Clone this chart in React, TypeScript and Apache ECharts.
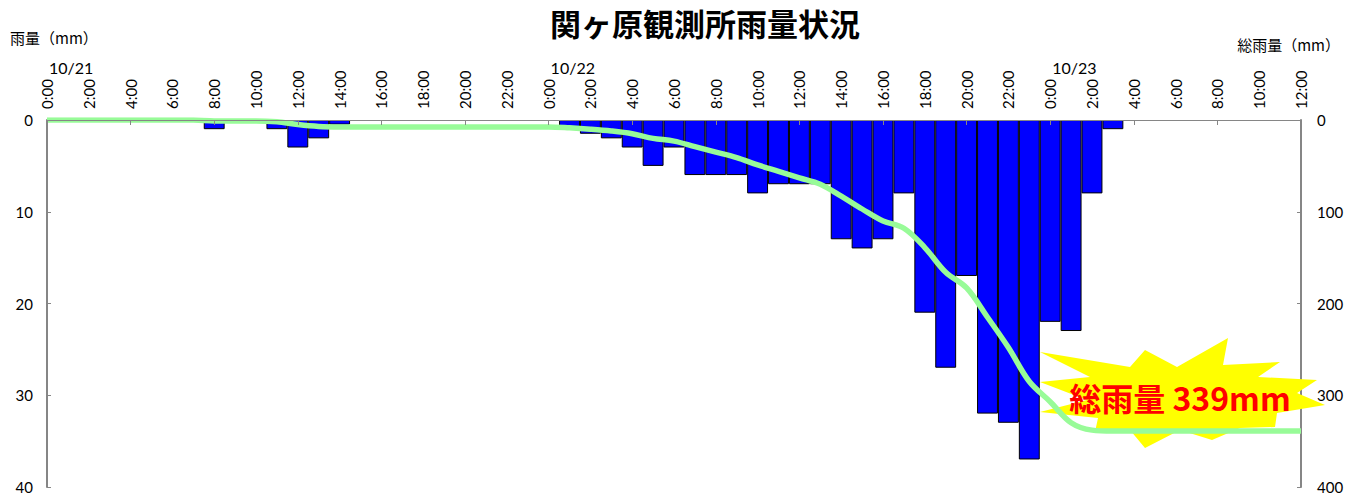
import React, { useEffect, useRef } from "react";
import * as echarts from "echarts";

const dayHours = [
  "0:00", "1:00", "2:00", "3:00", "4:00", "5:00", "6:00", "7:00",
  "8:00", "9:00", "10:00", "11:00", "12:00", "13:00", "14:00", "15:00",
  "16:00", "17:00", "18:00", "19:00", "20:00", "21:00", "22:00", "23:00",
];
const categories = [...dayHours, ...dayHours, ...dayHours.slice(0, 13)];
const dates = ["10/21", "10/22", "10/23"];

// hourly rainfall (mm), 10/21 0:00 .. 10/23 12:00
const hourlyRain: (number | null)[] = [
  // 10/21
  null, null, null, null, null, null, null, null, 1, null, null, 1,
  3, 2, 0.5, null, null, null, null, null, null, null, null, null,
  // 10/22
  null, 1, 1.5, 2, 3, 5, 3, 6, 6, 6, 8, 7,
  7, 7, 13, 14, 13, 8, 21, 27, 17, 32, 33, 37,
  // 10/23
  22, 23, 8, 1, null, null, null, null, null, null, null, null, null,
];

// cumulative rainfall (mm)
const totalRain: number[] = [
  // 10/21
  0, 0, 0, 0, 0, 0, 0, 0, 1, 1, 1, 2,
  5, 7, 7.5, 7.5, 7.5, 7.5, 7.5, 7.5, 7.5, 7.5, 7.5, 7.5,
  // 10/22
  7.5, 8.5, 10, 12, 15, 20, 23, 29, 35, 41, 49, 56,
  63, 70, 83, 97, 110, 118, 139, 166, 183, 215, 248, 285,
  // 10/23
  307, 330, 338, 339, 339, 339, 339, 339, 339, 339, 339, 339, 339,
];

const leftTicks = { min: 0, max: 40, interval: 10 };
const rightTicks = { min: 0, max: 400, interval: 100 };
const totalLabel = "総雨量 339mm";

const NUM_FONT = "Lato, 'Noto Sans', sans-serif";
const CJK_FONT = "'Noto Sans CJK JP', sans-serif";
const AXIS_GREY = "#868686";

export default function App() {
  const ref = useRef<HTMLDivElement>(null);

  useEffect(() => {
    if (!ref.current) return;
    const chart = echarts.init(ref.current, undefined, { renderer: "svg" });

    const starPoints = [
      [1040, 352], [1130, 367], [1145, 350], [1177, 367], [1228, 338],
      [1223, 365], [1280, 362], [1258, 377], [1317, 380], [1297, 393],
      [1325, 405], [1277, 413], [1275, 427], [1240, 428], [1212, 440],
      [1180, 430], [1145, 448], [1130, 430], [1095, 432], [1098, 418],
      [1040, 412], [1087, 400], [1040, 382], [1090, 377],
    ];

    chart.setOption({
      animation: false,
      grid: { left: 47, right: 48, top: 120, bottom: 13, containLabel: false },
      xAxis: [
        {
          type: "category",
          position: "top",
          data: categories,
          boundaryGap: false,
          z: 5,
          axisLine: { show: true, lineStyle: { color: AXIS_GREY, width: 1 } },
          axisTick: { show: true, interval: 3, inside: true, length: 5, lineStyle: { color: AXIS_GREY } },
          axisLabel: {
            interval: 1,
            rotate: 90,
            fontSize: 15,
            fontFamily: NUM_FONT,
            color: "#000",
            margin: 11,
          },
          splitLine: { show: false },
        },
        {
          type: "category",
          position: "top",
          offset: 45,
          data: categories,
          boundaryGap: false,
          axisLine: { show: false },
          axisTick: { show: false },
          axisLabel: {
            interval: (index: number) => index % 24 === 0,
            formatter: (_v: string, index: number) => (index % 24 === 0 ? dates[index / 24] : ""),
            fontSize: 16,
            fontFamily: NUM_FONT,
            color: "#000",
            align: "left",
            margin: 0,
            padding: [0, 0, 0, 2],
          },
          splitLine: { show: false },
        },
      ],
      yAxis: [
        {
          type: "value",
          ...leftTicks,
          inverse: true,
          axisLine: { show: true, lineStyle: { color: AXIS_GREY, width: 2 } },
          axisTick: { show: true, inside: true, length: 4, lineStyle: { color: AXIS_GREY } },
          axisLabel: { fontSize: 15, fontFamily: NUM_FONT, color: "#000", margin: 14 },
          splitLine: { show: false },
        },
        {
          type: "value",
          ...rightTicks,
          inverse: true,
          position: "right",
          axisLine: { show: true, lineStyle: { color: AXIS_GREY, width: 2 } },
          axisTick: { show: true, inside: true, length: 4, lineStyle: { color: AXIS_GREY } },
          axisLabel: { fontSize: 15, fontFamily: NUM_FONT, color: "#000", margin: 16 },
          splitLine: { show: false },
        },
      ],
      series: [
        {
          name: "雨量",
          type: "bar",
          xAxisIndex: 0,
          yAxisIndex: 0,
          data: hourlyRain,
          barCategoryGap: "0%",
          barGap: "0%",
          itemStyle: { color: "#0000FF", borderColor: "#000", borderWidth: 1 },
          z: 2,
        },
        {
          name: "総雨量",
          type: "line",
          xAxisIndex: 0,
          yAxisIndex: 1,
          data: totalRain,
          smooth: 0.35,
          showSymbol: false,
          symbol: "none",
          lineStyle: { color: "#98FB98", width: 5.5 },
          z: 3,
        },
      ],
      graphic: [
        {
          type: "text",
          x: 705,
          y: 22,
          z: 100,
          style: {
            text: "関ヶ原観測所雨量状況",
            font: `bold 31px ${CJK_FONT}`,
            fill: "#000",
            align: "center",
            verticalAlign: "middle",
            textAlign: "center",
            textVerticalAlign: "middle",
          },
        },
        {
          type: "text",
          x: 10,
          y: 37,
          z: 100,
          style: {
            text: "雨量（mm）",
            font: `15px ${CJK_FONT}`,
            fill: "#000",
            align: "left",
            verticalAlign: "middle",
            textAlign: "left",
            textVerticalAlign: "middle",
          },
        },
        {
          type: "text",
          x: 1340,
          y: 44,
          z: 100,
          style: {
            text: "総雨量（mm）",
            font: `15px ${CJK_FONT}`,
            fill: "#000",
            align: "right",
            verticalAlign: "middle",
            textAlign: "right",
            textVerticalAlign: "middle",
          },
        },
        {
          type: "polygon",
          z: 1,
          shape: { points: starPoints },
          style: { fill: "#FFFF00", stroke: "none" },
        },
        {
          type: "text",
          x: 1180,
          y: 397,
          z: 100,
          style: {
            text: totalLabel,
            font: `bold 32px ${CJK_FONT}`,
            fill: "#FF0000",
            align: "center",
            verticalAlign: "middle",
            textAlign: "center",
            textVerticalAlign: "middle",
          },
        },
      ],
    });

    return () => chart.dispose();
  }, []);

  return (
    <div
      ref={ref}
      style={{ position: "fixed", left: 0, top: 0, width: 1349, height: 500, background: "#fff" }}
    />
  );
}
